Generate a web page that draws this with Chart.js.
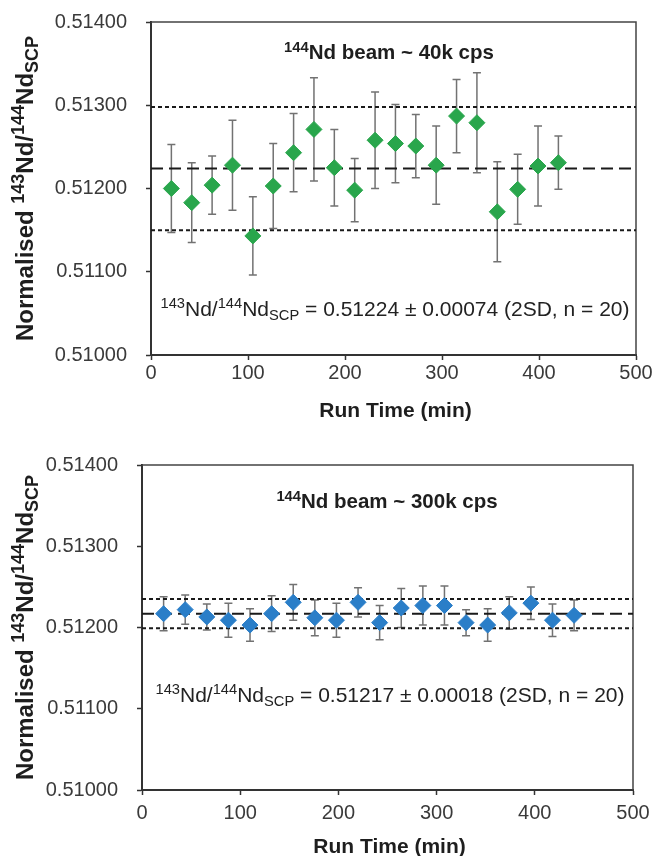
<!DOCTYPE html>
<html>
<head>
<meta charset="utf-8">
<script src="https://cdn.jsdelivr.net/npm/chart.js@4.4.1/dist/chart.umd.min.js"></script>
<style>
  html, body { margin: 0; padding: 0; background: #fff; }
  #wrap { position: relative; width: 654px; height: 856px; }
  canvas { position: absolute; left: 0; }
</style>
</head>
<body>
<div id="wrap">
  <canvas id="chart40k" width="654" height="430" style="top:0"></canvas>
  <canvas id="chart300k" width="654" height="426" style="top:430px"></canvas>
</div>
<script>
// run times (min)
var times40k = [21, 42, 63, 84, 105, 126, 147, 168, 189, 210, 231, 252, 273, 294, 315, 336, 357, 378, 399, 420];
var times300k = [22, 44, 66, 88, 110, 132, 154, 176, 198, 220, 242, 264, 286, 308, 330, 352, 374, 396, 418, 440];

// normalised 143Nd/144Nd
var ratio40k = [0.51200, 0.51183, 0.51204, 0.51228, 0.51143, 0.51203, 0.51243, 0.51271, 0.51225, 0.51198,
                0.51258, 0.51254, 0.51251, 0.51228, 0.51287, 0.51279, 0.51172, 0.51199, 0.51227, 0.51231];
var ratio300k = [0.51217, 0.51222, 0.51213, 0.51209, 0.51203, 0.51217, 0.51231, 0.51212, 0.51209, 0.51231,
                 0.51206, 0.51224, 0.51227, 0.51227, 0.51206, 0.51203, 0.51218, 0.51230, 0.51209, 0.51215];

// error bar half widths
var err40k = [0.00053, 0.00048, 0.00035, 0.00054, 0.00047, 0.00051, 0.00047, 0.00062, 0.00046, 0.00038,
              0.00058, 0.00047, 0.00038, 0.00047, 0.00044, 0.00060, 0.00060, 0.00042, 0.00048, 0.00032];
var err300k = [0.00021, 0.00018, 0.00016, 0.00021, 0.00020, 0.00022, 0.00022, 0.00022, 0.00021, 0.00018,
               0.00021, 0.00024, 0.00024, 0.00024, 0.00016, 0.00020, 0.00020, 0.00020, 0.00020, 0.00019];

// mean and 2SD
var mean40k = 0.51224, sd40k = 0.00074;
var mean300k = 0.51217, sd300k = 0.00018;

var xTicks = [0, 100, 200, 300, 400, 500];
var yTicks = [0.51000, 0.51100, 0.51200, 0.51300, 0.51400];

var FONT = "'Liberation Sans', Arial, sans-serif";

// draw text with superscript / subscript pieces
function drawRich(ctx, parts, x, y, size, weight, align, scale) {
  var small = size * (scale || 0.68);
  var total = 0;
  parts.forEach(function (p) {
    ctx.font = weight + ' ' + (p[1] === 'n' ? size : small) + 'px ' + FONT;
    p.w = ctx.measureText(p[0]).width;
    total += p.w;
  });
  var cx = align === 'center' ? x - total / 2 : x;
  ctx.textAlign = 'left';
  ctx.textBaseline = 'alphabetic';
  parts.forEach(function (p) {
    ctx.font = weight + ' ' + (p[1] === 'n' ? size : small) + 'px ' + FONT;
    var dy = p[1] === 'sup' ? -size * 0.36 : (p[1] === 'sub' ? size * 0.2 : 0);
    ctx.fillText(p[0], cx, y + dy);
    cx += p.w;
  });
}

var extrasPlugin = {
  id: 'extras',
  beforeDatasetsDraw: function (chart, args, o) {
    var ctx = chart.ctx, a = chart.chartArea;
    var xs = chart.scales.x, ys = chart.scales.y;
    ctx.save();
    // frame top / right
    ctx.strokeStyle = '#444';
    ctx.lineWidth = 1.5;
    ctx.beginPath();
    ctx.moveTo(a.left, a.top);
    ctx.lineTo(a.right, a.top);
    ctx.lineTo(a.right, a.bottom);
    ctx.stroke();
    // error bars
    chart.data.datasets.forEach(function (ds) {
      if (!ds.err) return;
      ctx.strokeStyle = '#727272';
      ctx.lineWidth = 1.5;
      ds.data.forEach(function (pt, i) {
        var px = xs.getPixelForValue(pt.x);
        var top = ys.getPixelForValue(pt.y + ds.err[i]);
        var bot = ys.getPixelForValue(pt.y - ds.err[i]);
        ctx.beginPath();
        ctx.moveTo(px, top); ctx.lineTo(px, bot);
        ctx.moveTo(px - 4, top); ctx.lineTo(px + 4, top);
        ctx.moveTo(px - 4, bot); ctx.lineTo(px + 4, bot);
        ctx.stroke();
      });
    });
    ctx.restore();
  },
  afterDraw: function (chart, args, o) {
    var ctx = chart.ctx, a = chart.chartArea;
    ctx.save();
    ctx.fillStyle = '#1e1e1e';
    // beam title
    drawRich(ctx, o.beam, o.beamX, a.top + o.beamY, 20.5, 'bold', 'center', 0.72);
    // result text
    ctx.fillStyle = '#222';
    drawRich(ctx, o.note, o.noteX, a.top + o.noteY, 21, 'normal', 'center', 0.7);
    // x title
    ctx.fillStyle = '#1e1e1e';
    drawRich(ctx, [['Run Time (min)', 'n']], (a.left + a.right) / 2 + 2, a.bottom + o.xTitleY, 21, 'bold', 'center');
    // y title
    ctx.translate(33, (a.top + a.bottom) / 2);
    ctx.rotate(-Math.PI / 2);
    drawRich(ctx, [['Normalised ', 'n'], ['143', 'sup'], ['Nd/', 'n'], ['144', 'sup'], ['Nd', 'n'], ['SCP', 'sub']],
      0, 0, 24, 'bold', 'center', 0.75);
    ctx.restore();
  }
};

function noPad(s) {
  s.paddingTop = 0; s.paddingBottom = 0; s.paddingLeft = 0; s.paddingRight = 0;
}

function makeChart(id, times, vals, errs, mean, sd, color, lay) {
  var pts = times.map(function (t, i) { return { x: t, y: vals[i] }; });
  var ctx = document.getElementById(id).getContext('2d');
  return new Chart(ctx, {
    type: 'scatter',
    data: {
      datasets: [
        {
          label: 'data',
          data: pts,
          err: errs,
          pointStyle: 'rectRot',
          pointRadius: lay.radius,
          backgroundColor: color,
          borderColor: color,
          borderWidth: 1
        },
        {
          label: 'mean',
          data: [{ x: xTicks[0], y: mean }, { x: xTicks[xTicks.length - 1], y: mean }],
          showLine: true, pointRadius: 0,
          borderColor: '#1a1a1a', borderWidth: 2, borderDash: [12, 6]
        },
        {
          label: '+2SD',
          data: [{ x: xTicks[0], y: mean + sd }, { x: xTicks[xTicks.length - 1], y: mean + sd }],
          showLine: true, pointRadius: 0,
          borderColor: '#1a1a1a', borderWidth: 2, borderDash: [4, 3]
        },
        {
          label: '-2SD',
          data: [{ x: xTicks[0], y: mean - sd }, { x: xTicks[xTicks.length - 1], y: mean - sd }],
          showLine: true, pointRadius: 0,
          borderColor: '#1a1a1a', borderWidth: 2, borderDash: [4, 3]
        }
      ]
    },
    options: {
      responsive: false,
      animation: false,
      layout: { padding: { left: 0, right: lay.right, top: lay.top, bottom: lay.bottom } },
      plugins: {
        legend: { display: false },
        tooltip: { enabled: false },
        extras: lay.extras
      },
      scales: {
        x: {
          type: 'linear',
          min: xTicks[0], max: xTicks[xTicks.length - 1],
          afterBuildTicks: function (s) { s.ticks = xTicks.map(function (v) { return { value: v }; }); },
          ticks: { font: { family: FONT, size: 20 }, color: '#3a3a3a', padding: lay.xPad, maxRotation: 0 },
          grid: { drawOnChartArea: false, tickLength: 5, tickColor: '#333', tickWidth: 1.5 },
          border: { color: '#333', width: 2 },
          afterFit: function (s) { s.height = lay.xHeight; noPad(s); }
        },
        y: {
          min: yTicks[0], max: yTicks[yTicks.length - 1],
          afterBuildTicks: function (s) { s.ticks = yTicks.map(function (v) { return { value: v }; }); },
          ticks: {
            font: { family: FONT, size: 20 }, color: '#3a3a3a', padding: 19,
            callback: function (v) { return Number(v).toFixed(5); }
          },
          grid: { drawOnChartArea: false, tickLength: 5, tickColor: '#333', tickWidth: 1.5 },
          border: { color: '#333', width: 2 },
          afterFit: function (s) { s.width = lay.yWidth; noPad(s); }
        }
      }
    },
    plugins: [extrasPlugin]
  });
}

makeChart('chart40k', times40k, ratio40k, err40k, mean40k, sd40k, '#29a64c', {
  radius: 8, right: 18, top: 22, bottom: 5, xHeight: 70, yWidth: 151, xPad: 1,
  extras: {
    beam: [['144', 'sup'], ['Nd beam ~ 40k cps', 'n']], beamX: 389, beamY: 37,
    note: [['143', 'sup'], ['Nd/', 'n'], ['144', 'sup'], ['Nd', 'n'], ['SCP', 'sub'],
           [' = 0.51224 \u00b1 0.00074 (2SD, n = 20)', 'n']], noteX: 395, noteY: 294,
    xTitleY: 62
  }
});

makeChart('chart300k', times300k, ratio300k, err300k, mean300k, sd300k, '#2a7ec8', {
  radius: 8, right: 21, top: 35, bottom: 0, xHeight: 66, yWidth: 142, xPad: 6,
  extras: {
    beam: [['144', 'sup'], ['Nd beam ~ 300k cps', 'n']], beamX: 387, beamY: 43,
    note: [['143', 'sup'], ['Nd/', 'n'], ['144', 'sup'], ['Nd', 'n'], ['SCP', 'sub'],
           [' = 0.51217 \u00b1 0.00018 (2SD, n = 20)', 'n']], noteX: 390, noteY: 237,
    xTitleY: 63
  }
});
</script>
</body>
</html>
